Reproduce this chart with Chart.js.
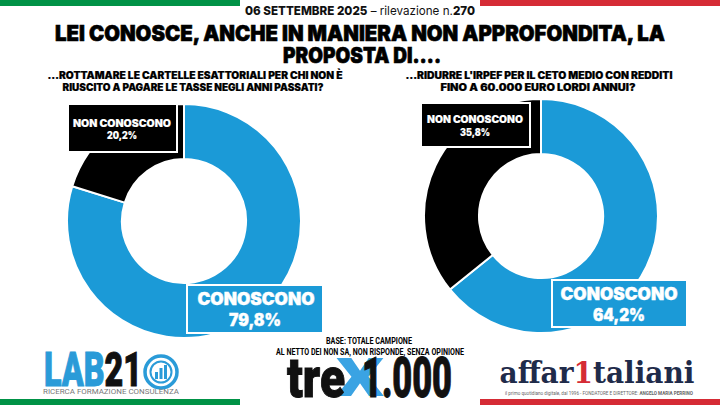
<!DOCTYPE html>
<html><head><meta charset="utf-8">
<script src="https://cdn.jsdelivr.net/npm/chart.js@4.4.1/dist/chart.umd.min.js"></script>
<style>
html,body{margin:0;padding:0;background:#fff;width:720px;height:405px;overflow:hidden;position:relative;font-family:Inter,"Open Sans",sans-serif}
.t{position:absolute;white-space:nowrap;line-height:1;}
.stripe{position:absolute;height:6px}
.box{position:absolute;border:2px solid #fff;box-sizing:border-box}
.cw{position:absolute}
</style></head>
<body>
<div class="stripe" style="left:0;top:0;width:240px;background:#009246"></div>
<div class="stripe" style="left:480px;top:0;width:240px;background:#d52b35"></div>
<div class="stripe" style="left:0;top:399px;width:240px;background:#009246"></div>
<div class="stripe" style="left:480px;top:399px;width:240px;background:#d52b35"></div>

<div class="box" id="bl1" style="left:67px;top:103px;width:111px;height:50px;background:#000;z-index:3"></div>
<div class="box" id="bl2" style="left:186px;top:284px;width:138px;height:50px;background:#1b9ad7;z-index:3"></div>
<div class="box" id="br1" style="left:420px;top:102px;width:111px;height:46px;background:#000;z-index:3"></div>
<div class="box" id="br2" style="left:551px;top:279px;width:137px;height:49px;background:#1b9ad7;z-index:3"></div>

<div class="cw" style="left:66px;top:103px;width:236px;height:236px"><canvas id="c1"></canvas></div>
<div class="cw" style="left:423px;top:98px;width:236px;height:236px"><canvas id="c2"></canvas></div>

<svg style="position:absolute;left:142px;top:353px" width="38" height="38" viewBox="0 0 38 38">
 <circle cx="19" cy="19" r="16" fill="none" stroke="#2a9bd8" stroke-width="3.5"/>
 <circle cx="19" cy="19" r="10.5" fill="none" stroke="#2a9bd8" stroke-width="2"/>
 <rect x="13" y="19" width="3" height="7" fill="#2a9bd8"/>
 <rect x="17.5" y="15" width="3" height="11" fill="#2a9bd8"/>
 <rect x="22" y="12" width="3" height="14" fill="#2a9bd8"/>
</svg>

<script>
// ---- data ----
const categories = ['CONOSCONO', 'NON CONOSCONO'];
const valuesRottamazione = [79.8, 20.2];
const valuesIrpef = [64.2, 35.8];
const headerDate = '06 SETTEMBRE 2025';
const headerSurvey = 'rilevazione n.';
const headerNumber = '270';
const titleLines = ['LEI CONOSCE, ANCHE IN MANIERA NON APPROFONDITA,  LA', 'PROPOSTA DI….'];
const question1Lines = ['…ROTTAMARE LE CARTELLE ESATTORIALI PER CHI NON È', 'RIUSCITO A PAGARE LE TASSE NEGLI ANNI PASSATI?'];
const question2Lines = ['…RIDURRE L\'IRPEF PER IL CETO MEDIO CON REDDITI', 'FINO A 60.000 EURO LORDI ANNUI?'];
const baseLines = ['BASE: TOTALE CAMPIONE', 'AL NETTO DEI NON SA, NON RISPONDE, SENZA OPINIONE'];

const BLUE = '#1b9ad7';
const fmt = v => v.toFixed(1).replace('.', ',') + '%';

function place(html, cx, cy, w, style) {
  const el = document.createElement('div');
  el.className = 't';
  el.innerHTML = html;
  Object.assign(el.style, style || {});
  document.body.appendChild(el);
  const nw = el.getBoundingClientRect().width;
  const s = w ? w / nw : 1;
  el.style.left = cx + 'px';
  el.style.top = cy + 'px';
  el.style.transform = 'translate(-50%,-50%) scaleX(' + s + ')';
  return el;
}
const esc = s => s.replace(/&/g,'&amp;').replace(/</g,'&lt;');
const heavy = (fs, color, stroke) => ({fontSize: fs + 'px', fontWeight: '900', color: color, fontFamily: 'Inter', webkitTextStroke: (stroke || 0) + 'px ' + color});

// header
place('<b style="font-weight:800">' + headerDate + '</b> – <span style="font-weight:400">' + headerSurvey + '</span><b style="font-weight:800">' + headerNumber + '</b>',
  360, 11, 230, {fontSize: '12px', color: '#111', fontFamily: 'Inter'});
place(esc(titleLines[0]), 360, 33, 610, heavy(21, '#000', 0.6));
place(esc(titleLines[1]), 362, 55, 158, heavy(21, '#000', 0.6));
place(esc(question1Lines[0]), 194.5, 75, 295, heavy(10, '#000', 0.2));
place(esc(question1Lines[1]), 192.5, 87, 261, heavy(10, '#000', 0.2));
place(esc(question2Lines[0]), 538.5, 75, 267, heavy(10, '#000', 0.2));
place(esc(question2Lines[1]), 537.5, 87, 195, heavy(10, '#000', 0.2));

// label boxes
const lab = (txt, cx, cy, w, fs) => { const e = place(esc(txt), cx, cy, w, heavy(fs, '#fff', fs > 12 ? 0.4 : 0.15)); e.style.zIndex = 4; };
lab(categories[1], 122, 123, 98, 10);
lab(fmt(valuesRottamazione[1]), 122, 135, 30, 10);
lab(categories[0], 255.5, 299, 117, 17);
lab(fmt(valuesRottamazione[0]), 255, 320, 52, 17);
lab(categories[1], 475, 119, 96, 10);
lab(fmt(valuesIrpef[1]), 475, 132, 30, 10);
lab(categories[0], 618.5, 294, 117, 17);
lab(fmt(valuesIrpef[0]), 619, 315, 52, 17);

// footer
place(esc(baseLines[0]), 369, 341, 86, {fontSize: '9px', fontWeight: '700', color: '#000', fontFamily: 'Roboto'});
place(esc(baseLines[1]), 370, 352, 188, {fontSize: '9px', fontWeight: '700', color: '#000', fontFamily: 'Roboto'});

// logos
place('<span style="color:#2a9bd8;-webkit-text-stroke:1px #2a9bd8">LAB</span><span style="color:#111;-webkit-text-stroke:1px #111">21</span>', 93, 370, 98, {fontSize: '48px', fontWeight: '900', fontFamily: 'Roboto'});
place('RICERCA FORMAZIONE CONSULENZA', 111, 392, 136, {fontSize: '7px', color: '#777', fontFamily: 'Roboto'});
place('X', 360, 378, 48, {fontSize: '54px', fontWeight: '900', color: '#3aa3e3', fontFamily: 'Roboto'});
place('tre', 316, 378, 58, {fontSize: '56px', fontWeight: '900', color: '#111', fontFamily: 'Roboto', webkitTextStroke: '1px #111'});
place('1.000', 407, 378, 90, {fontSize: '56px', fontWeight: '900', color: '#111', fontFamily: 'Roboto', webkitTextStroke: '1px #111'});
place('<span style="color:#1f2b4a">affar</span><span style="color:#d52b35">1</span><span style="color:#1f2b4a">taliani</span>', 597, 373, 195, {fontSize: '30px', fontWeight: '700', fontFamily: '"DejaVu Serif"'});
place('il primo quotidiano digitale, dal 1996 - FONDATORE E DIRETTORE: <b>ANGELO MARIA PERRINO</b>', 599, 393, 188, {fontSize: '6px', color: '#666', fontFamily: 'Roboto'});

// charts
function donut(id, values) {
  new Chart(document.getElementById(id), {
    type: 'doughnut',
    data: {
      labels: categories,
      datasets: [{
        data: values,
        backgroundColor: [BLUE, '#000'],
        borderColor: '#fff',
        borderWidth: 2,
        hoverOffset: 0
      }]
    },
    options: {
      responsive: true,
      maintainAspectRatio: false,
      animation: false,
      cutout: '53%',
      layout: {padding: 0},
      plugins: {legend: {display: false}, tooltip: {enabled: false}}
    }
  });
}
donut('c1', valuesRottamazione);
donut('c2', valuesIrpef);
</script>
</body></html>
